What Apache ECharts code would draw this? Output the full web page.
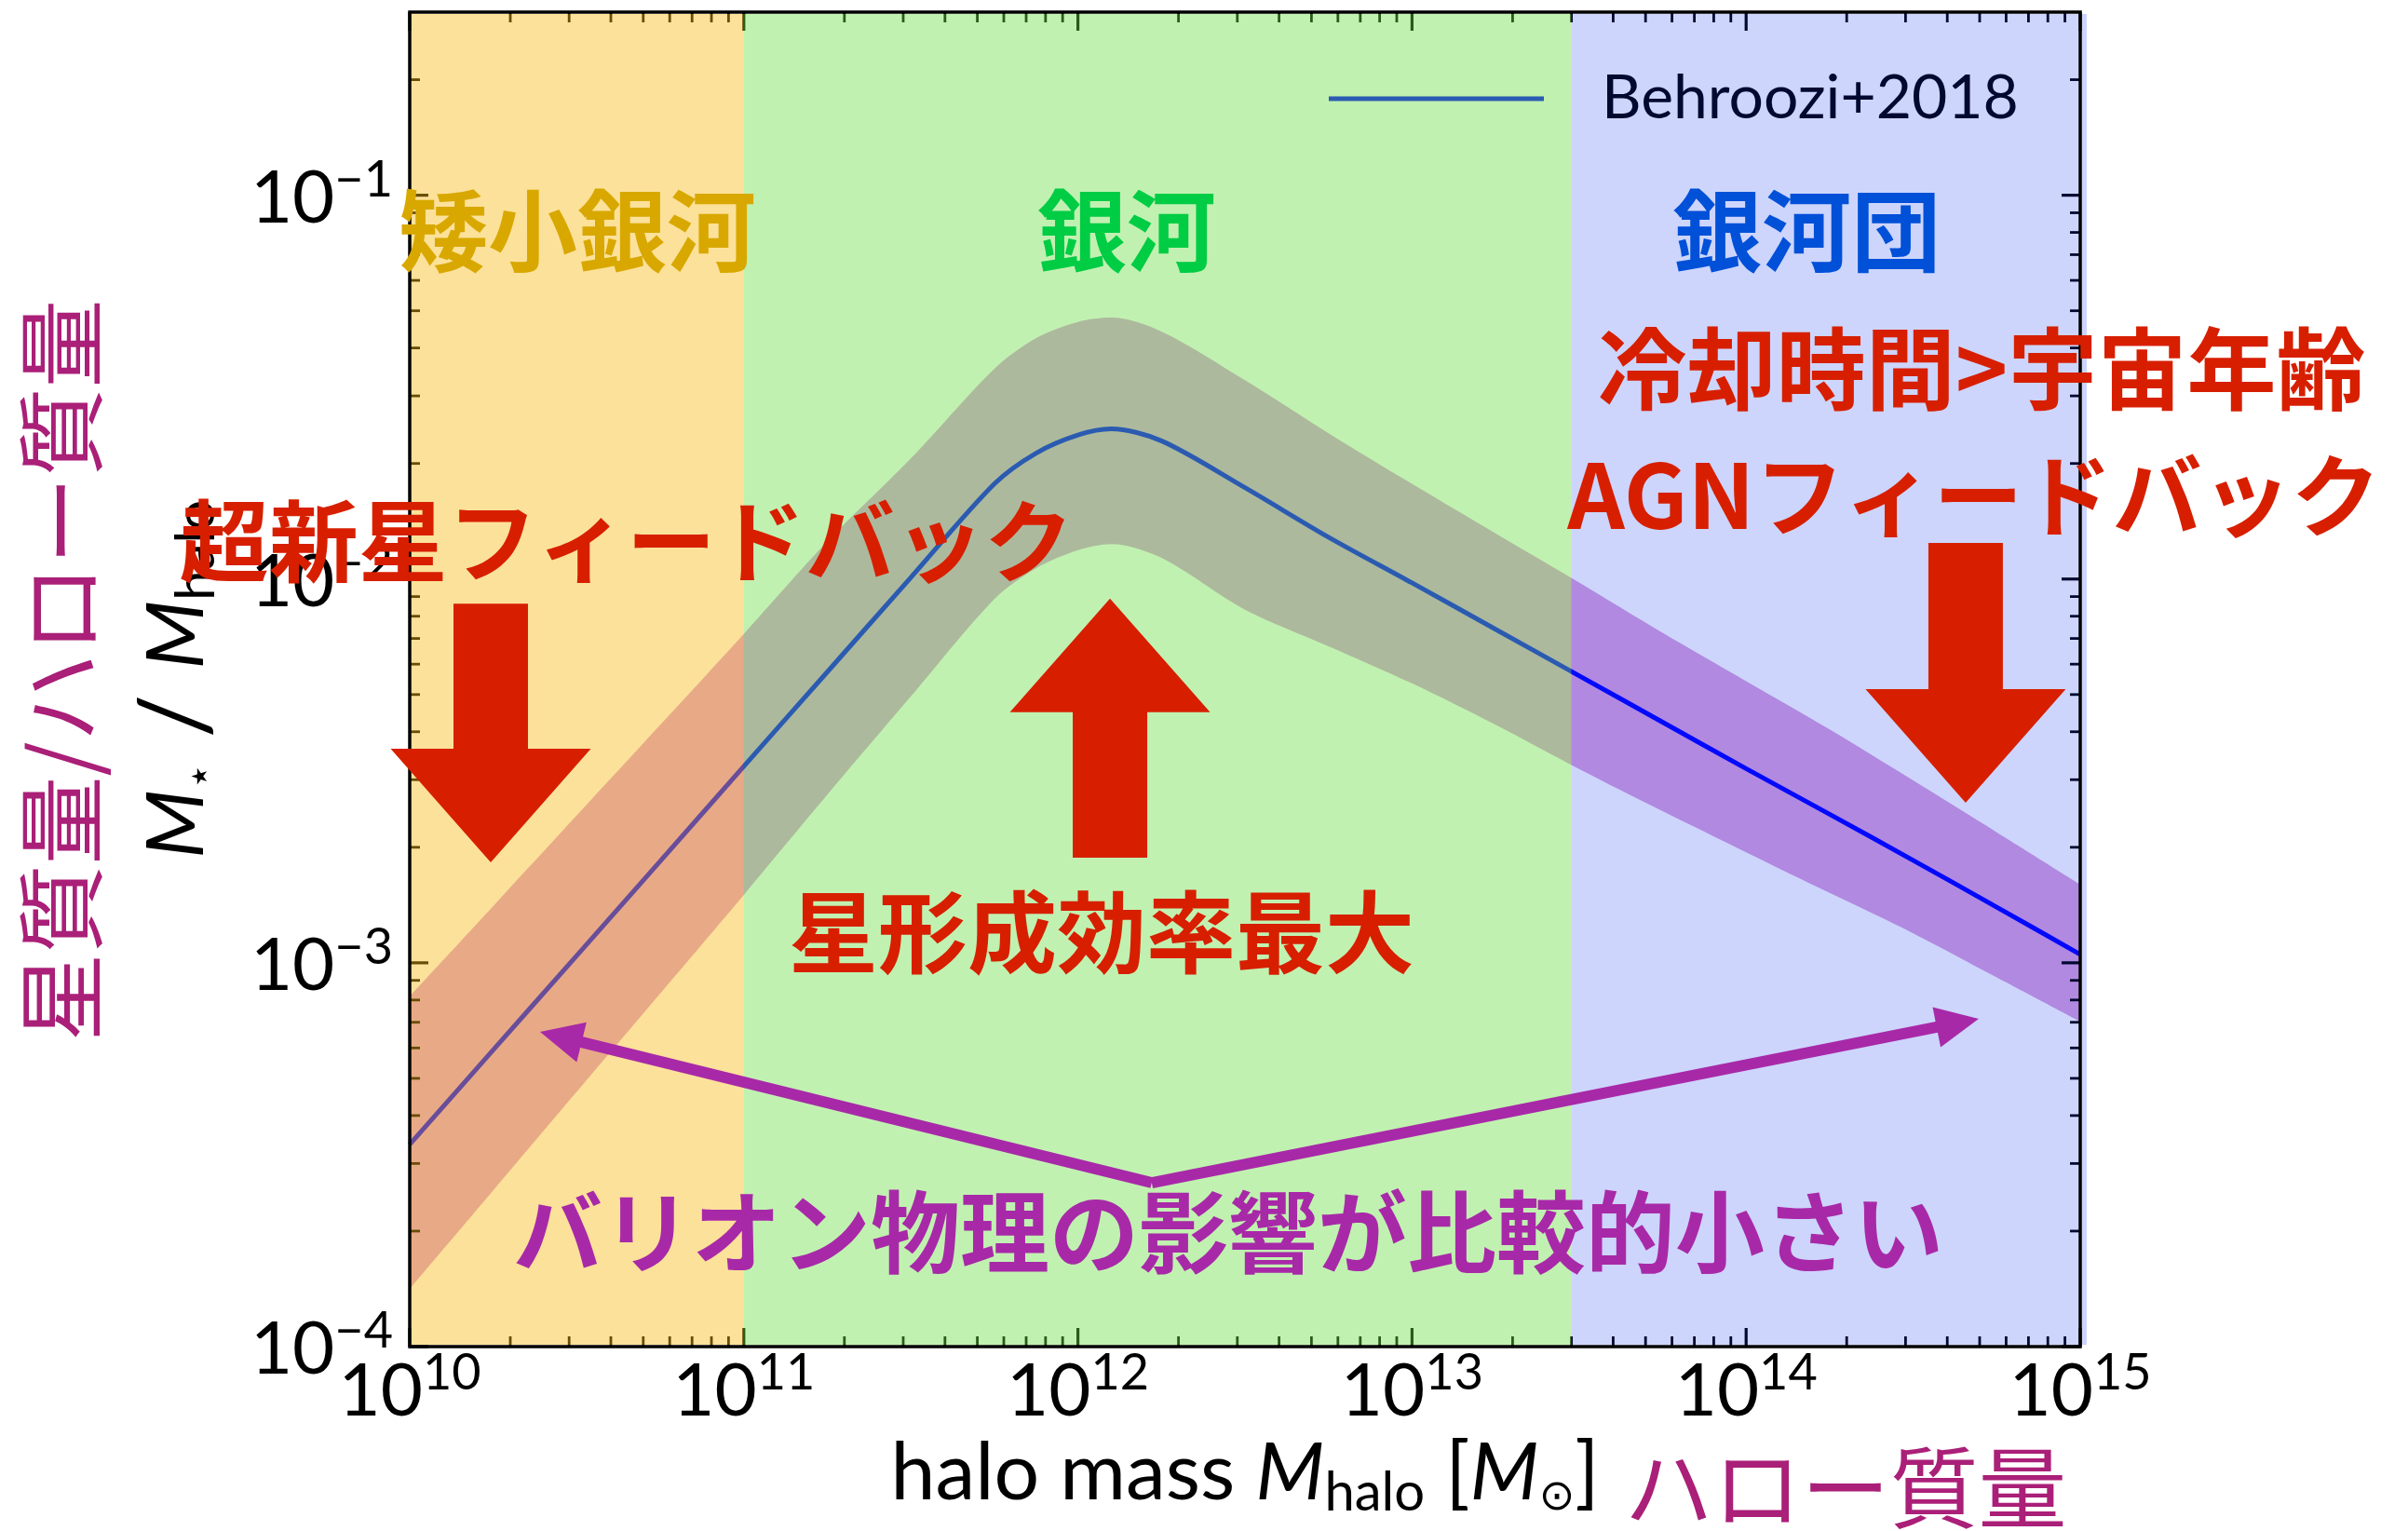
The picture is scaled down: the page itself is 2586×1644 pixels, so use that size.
<!DOCTYPE html>
<html>
<head>
<meta charset="utf-8">
<script src="https://cdn.jsdelivr.net/npm/echarts@6/dist/echarts.min.js"></script>
<style>
html,body{margin:0;padding:0;background:#ffffff;}
#chart{width:2586px;height:1644px;}
</style>
</head>
<body>
<div id="chart"></div>
<script>
// ---------- data (log10 values) ----------
const logHaloMass    = [10.00,10.25,10.50,10.75,11.00,11.25,11.50,11.75,11.875,12.00,12.10,12.25,12.50,12.75,13.00,13.25,13.50,13.75,14.00,14.25,14.50,14.75,15.00];
const logRatioMedian = [-3.473,-3.227,-2.981,-2.735,-2.488,-2.242,-1.996,-1.752,-1.672,-1.625,-1.609,-1.640,-1.762,-1.891,-2.010,-2.131,-2.252,-2.373,-2.494,-2.613,-2.733,-2.855,-2.978];
const logRatioUpper  = [-3.087,-2.852,-2.616,-2.380,-2.143,-1.902,-1.686,-1.452,-1.372,-1.330,-1.319,-1.355,-1.482,-1.620,-1.752,-1.881,-2.009,-2.140,-2.266,-2.392,-2.525,-2.660,-2.796];
const logRatioLower  = [-3.850,-3.593,-3.336,-3.080,-2.823,-2.562,-2.306,-2.052,-1.972,-1.925,-1.909,-1.945,-2.080,-2.175,-2.272,-2.380,-2.495,-2.605,-2.712,-2.818,-2.923,-3.038,-3.153];

const seriesName = 'Behroozi+2018';

// axis ranges and tick decades
const xAxisMin = 1e10, xAxisMax = 1e15;
const yAxisMin = 1e-4, yAxisMax = 0.3;
const xTickDecades = [10, 11, 12, 13, 14, 15];
const yTickDecades = [-4, -3, -2, -1];

// shaded mass regimes: [from, to] halo mass
const regionFrom = [1e10, 1e11, 3e13];
const regionTo   = [1e11, 3e13, 1e15];

// annotations (log10 halo mass, log10 ratio of their centres)
const noteTexts = ['矮小銀河', '銀河', '銀河団', '冷却時間>宇宙年齢', 'AGNフィードバック', '超新星フィードバック', '星形成効率最大', 'バリオン物理の影響が比較的小さい'];
const noteLogM  = [10.502, 12.146, 14.181, 14.705, 14.682, 10.649, 12.071, 12.450];
const noteLogR  = [-1.093, -1.093, -1.093, -1.450, -1.780, -1.899, -2.920, -3.701];

// block arrows: x position, tail and tip (log10)
const blockArrowLogM     = [10.2425, 12.096, 14.657];
const blockArrowTailLogR = [-2.064, -2.726, -1.906];
const blockArrowTipLogR  = [-2.738, -2.051, -2.583];

// thin arrows from a common origin
const pointerOriginLogM = [12.221, 12.221];
const pointerOriginLogR = [-3.573, -3.573];
const pointerTipLogM    = [10.390, 14.696];
const pointerTipLogR    = [-3.180, -3.146];

// ---------- styles ----------
const regionColors = ['rgba(248,184,14,0.42)', 'rgba(105,222,66,0.41)', 'rgba(5,45,240,0.20)'];
const noteColors = ['#D8A800', '#00CC44', '#0050D8', '#D71F00', '#D71F00', '#D71F00', '#D71F00', '#A829A8'];
const bandColor = 'rgb(221,160,221)';
const redArrow = '#D71F00';
const purple = '#A829A8';
const magenta = '#AA1F78';
const latin = 'Lato, "DejaVu Sans", sans-serif';
const cjk = '"Noto Sans CJK JP", "Noto Sans", sans-serif';

const p10 = v => Math.pow(10, v);
const masses = logHaloMass.map(p10);
const medianData = masses.map((m, i) => [m, p10(logRatioMedian[i])]);
const upperData = masses.map((m, i) => [m, p10(logRatioUpper[i])]);
const lowerData = masses.map((m, i) => [m, p10(logRatioLower[i])]);

// tick marks (decoration) built from the tick decades
const tickData = [];
xTickDecades.forEach(d => {
  tickData.push([p10(d), yAxisMin, 1, 0]);
  if (d < 15) for (let k = 2; k <= 9; k++) tickData.push([k * p10(d), yAxisMin, 0, 0]);
});
yTickDecades.forEach(d => {
  tickData.push([xAxisMin, p10(d), 1, 1]);
  for (let k = 2; k <= 9; k++) {
    const v = k * p10(d);
    if (v < yAxisMax * 0.999) tickData.push([xAxisMin, v, 0, 1]);
  }
});

const regionData = regionFrom.map((f, i) => [f, yAxisMin, regionTo[i], yAxisMax]);
const noteData = noteTexts.map((t, i) => [p10(noteLogM[i]), p10(noteLogR[i])]);
const blockData = blockArrowLogM.map((m, i) => [p10(m), p10(blockArrowTailLogR[i]), p10(blockArrowTipLogR[i])]);
const pointerData = pointerOriginLogM.map((m, i) => [p10(m), p10(pointerOriginLogR[i]), p10(pointerTipLogM[i]), p10(pointerTipLogR[i])]);

function powLabel(value) {
  const l = Math.log10(value);
  const e = Math.round(l);
  if (Math.abs(l - e) > 1e-6) return '';
  return '{b|10}{s|' + (e < 0 ? '\u2212' : '') + Math.abs(e) + '}';
}
const tickRich = {
  b: {fontSize: 78, fontFamily: latin, color: '#000', lineHeight: 86, verticalAlign: 'bottom'},
  s: {fontSize: 54, fontFamily: latin, color: '#000', lineHeight: 46, verticalAlign: 'top'}
};
const titleRich = {
  n: {fontSize: 86, fontFamily: latin, color: '#000', lineHeight: 100},
  i: {fontSize: 86, fontFamily: latin, fontStyle: 'italic', color: '#000', lineHeight: 100},
  sl: {fontSize: 104, fontFamily: latin, color: '#000', lineHeight: 100},
  s: {fontSize: 58, fontFamily: latin, color: '#000', lineHeight: 62, verticalAlign: 'bottom'},
  st: {fontSize: 46, fontFamily: '"DejaVu Sans", sans-serif', color: '#000', lineHeight: 62, verticalAlign: 'bottom'}
};

function blockArrow(t, p, sw, hw, hl) {
  const dx = p[0] - t[0], dy = p[1] - t[1];
  const L = Math.sqrt(dx * dx + dy * dy);
  const ux = dx / L, uy = dy / L, nx = -uy, ny = ux;
  const hx = p[0] - ux * hl, hy = p[1] - uy * hl;
  return [
    [t[0] + nx * sw / 2, t[1] + ny * sw / 2],
    [hx + nx * sw / 2, hy + ny * sw / 2],
    [hx + nx * hw / 2, hy + ny * hw / 2],
    [p[0], p[1]],
    [hx - nx * hw / 2, hy - ny * hw / 2],
    [hx - nx * sw / 2, hy - ny * sw / 2],
    [t[0] - nx * sw / 2, t[1] - ny * sw / 2]
  ];
}

const chart = echarts.init(document.getElementById('chart'), null, {width: 2586, height: 1644});

const option = {
  animation: false,
  backgroundColor: '#ffffff',
  grid: {
    left: 440, top: 13, width: 1794, height: 1433,
    show: true, borderColor: '#000', borderWidth: 3.5, backgroundColor: 'transparent',
    z: 7, containLabel: false, outerBoundsMode: 'none'
  },
  legend: {
    show: true, data: [seriesName], left: 1427, top: 66, padding: 0,
    itemWidth: 231, itemHeight: 5, icon: 'rect', selectedMode: false, z: 4,
    textStyle: {fontSize: 66, fontFamily: latin, color: '#000', lineHeight: 80, padding: [0, 0, 0, 57]}
  },
  xAxis: {
    type: 'log', logBase: 10, min: xAxisMin, max: xAxisMax,
    axisLine: {show: false}, axisTick: {show: false}, splitLine: {show: false}, minorTick: {show: false},
    axisLabel: {show: true, margin: 2, showMinLabel: true, showMaxLabel: true, formatter: powLabel, rich: tickRich},
    name: '{n|halo mass }{i|M}{s|halo}{n| [}{i|M}{st|⊙}{n|]}',
    nameLocation: 'middle', nameGap: 86,
    nameTextStyle: {rich: titleRich}
  },
  yAxis: {
    type: 'log', logBase: 10, min: yAxisMin, max: yAxisMax,
    axisLine: {show: false}, axisTick: {show: false}, splitLine: {show: false}, minorTick: {show: false},
    axisLabel: {show: true, margin: 18, showMinLabel: true, showMaxLabel: true, formatter: powLabel, rich: tickRich},
    name: '{i|M}{st|⋆}{sl| / }{i|M}{s|halo}',
    nameLocation: 'middle', nameRotate: 90, nameGap: 200,
    nameTextStyle: {rich: titleRich}
  },
  graphic: [
    {type: 'text', x: 66, y: 720, rotation: Math.PI / 2, z: 10,
     style: {text: '星質量/ハロー質量', font: '95px ' + cjk, fill: magenta, align: 'center', verticalAlign: 'middle'}},
    {type: 'text', x: 1982, y: 1598, z: 10,
     style: {text: 'ハロー質量', font: '95px ' + cjk, fill: magenta, align: 'center', verticalAlign: 'middle'}}
  ],
  series: [
    {
      // scatter band: filled down from the upper edge ...
      name: 'upper', type: 'line', data: upperData, smooth: 0.3,
      showSymbol: false, symbol: 'none', lineStyle: {width: 0, opacity: 0},
      areaStyle: {color: bandColor, opacity: 1, origin: 'start'}, z: 1, silent: true
    },
    {
      // ... and cleared again below the lower edge (plot background is white)
      name: 'lower', type: 'line', data: lowerData, smooth: 0.3,
      showSymbol: false, symbol: 'none', lineStyle: {width: 0, opacity: 0},
      areaStyle: {color: '#ffffff', opacity: 1, origin: 'start'}, z: 1, silent: true
    },
    {
      name: seriesName, type: 'line', data: medianData, smooth: 0.3,
      showSymbol: false, symbol: 'none', color: '#0000ff',
      itemStyle: {color: '#0000ff'}, lineStyle: {color: '#0000ff', width: 5}, z: 3, silent: true
    },
    {
      name: 'ticks', type: 'custom', data: tickData, z: 2, silent: true, clip: false,
      encode: {x: 0, y: 1},
      renderItem(params, api) {
        const cs = params.coordSys;
        const major = api.value(2) === 1;
        const isY = api.value(3) === 1;
        const len = major ? 20 : 11;
        const style = {stroke: '#000', lineWidth: major ? 3.2 : 2.8};
        const p = api.coord([api.value(0), api.value(1)]);
        if (!isY) {
          return {type: 'group', children: [
            {type: 'line', shape: {x1: p[0], y1: cs.y + cs.height, x2: p[0], y2: cs.y + cs.height - len}, style},
            {type: 'line', shape: {x1: p[0], y1: cs.y, x2: p[0], y2: cs.y + len}, style}
          ]};
        }
        return {type: 'group', children: [
          {type: 'line', shape: {x1: cs.x, y1: p[1], x2: cs.x + len, y2: p[1]}, style},
          {type: 'line', shape: {x1: cs.x + cs.width, y1: p[1], x2: cs.x + cs.width - len, y2: p[1]}, style}
        ]};
      }
    },
    {
      name: 'regions', type: 'custom', data: regionData, z: 6, silent: true, clip: false,
      encode: {x: [0, 2], y: [1, 3]},
      renderItem(params, api) {
        const a = api.coord([api.value(0), api.value(3)]);
        const b = api.coord([api.value(2), api.value(1)]);
        const extra = params.dataIndex === regionData.length - 1 ? 7 : 0;
        return {type: 'rect', shape: {x: a[0], y: a[1] + 2, width: b[0] - a[0] + extra, height: b[1] - a[1] - 4},
                style: {fill: regionColors[params.dataIndex]}};
      }
    },
    {
      name: 'blockArrows', type: 'custom', data: blockData, z: 10, silent: true, clip: false,
      encode: {x: 0, y: [1, 2]},
      renderItem(params, api) {
        const t = api.coord([api.value(0), api.value(1)]);
        const p = api.coord([api.value(0), api.value(2)]);
        return {type: 'polygon', shape: {points: blockArrow(t, p, 80, 215, 122)}, style: {fill: redArrow}};
      }
    },
    {
      name: 'pointerArrows', type: 'custom', data: pointerData, z: 10, silent: true, clip: false,
      encode: {x: [0, 2], y: [1, 3]},
      renderItem(params, api) {
        const o = api.coord([api.value(0), api.value(1)]);
        const p = api.coord([api.value(2), api.value(3)]);
        const dx = p[0] - o[0], dy = p[1] - o[1];
        const L = Math.sqrt(dx * dx + dy * dy);
        const ux = dx / L, uy = dy / L, nx = -uy, ny = ux;
        const hl = 46, hw = 22;
        const hx = p[0] - ux * hl, hy = p[1] - uy * hl;
        return {type: 'group', children: [
          {type: 'line', shape: {x1: o[0], y1: o[1], x2: hx + ux * 4, y2: hy + uy * 4},
           style: {stroke: purple, lineWidth: 12, lineCap: 'butt'}},
          {type: 'polygon', shape: {points: [[p[0], p[1]], [hx + nx * hw, hy + ny * hw], [hx - nx * hw, hy - ny * hw]]},
           style: {fill: purple}}
        ]};
      }
    },
    {
      name: 'notes', type: 'custom', data: noteData, z: 11, silent: true, clip: false,
      encode: {x: 0, y: 1},
      renderItem(params, api) {
        const p = api.coord([api.value(0), api.value(1)]);
        return {type: 'text', x: p[0], y: p[1],
                style: {text: noteTexts[params.dataIndex], fill: noteColors[params.dataIndex],
                        font: 'bold 96px ' + cjk, align: 'center', verticalAlign: 'middle'}};
      }
    }
  ]
};
chart.setOption(option);
</script>
</body>
</html>
